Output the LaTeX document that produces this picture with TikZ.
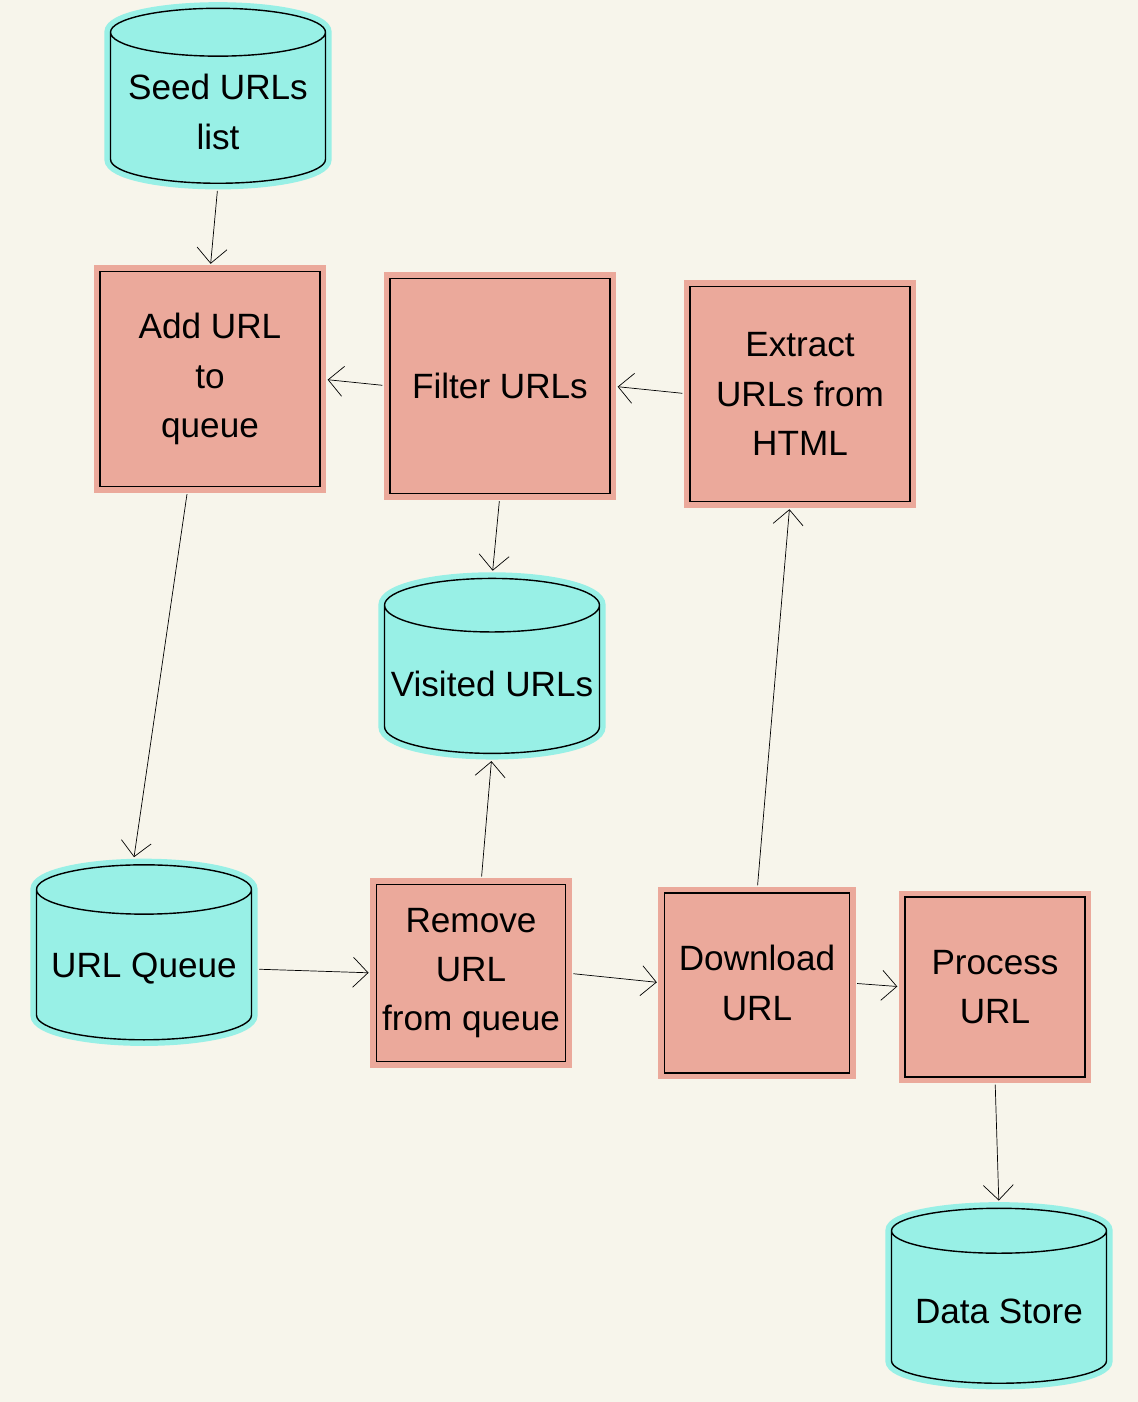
\documentclass[tikz,border=0pt]{standalone}
\usepackage{fontspec}
\setmainfont{Liberation Sans}
\usetikzlibrary{arrows.meta,positioning,shapes.geometric}
\definecolor{paper}{HTML}{F7F5EB}
\definecolor{storefill}{HTML}{98F0E6}
\definecolor{taskfill}{HTML}{EBA99B}

\begin{document}
\begin{tikzpicture}[x=0.02cm,y=-0.02cm,
  task/.style={draw=black,thick,fill=taskfill,preaction={draw=taskfill,line width=7pt},
    minimum width=4.4cm,minimum height=4.3cm,align=center,font=\fontsize{20}{28}\selectfont},
  store/.style={cylinder,shape border rotate=90,aspect=0.25,draw=black,thick,fill=storefill,
    preaction={draw=storefill,line width=7pt},
    minimum width=4.3cm,minimum height=3.5cm,align=center,font=\fontsize{20}{28}\selectfont},
  flow/.style={-{Straight Barb[length=3mm,width=6mm]},thin,shorten <=4pt,shorten >=4pt}]
\fill[paper] (0,0) rectangle (1138,1402);
\useasboundingbox (0,0) rectangle (1138,1402);

% stores
\node[store] (seed) at (218,112) {Seed URLs\\list};
\node[store] (visited) at (492,684) {Visited URLs};
\node[store] (queue) at (144,969) {URL Queue};
\node[store] (data) at (999,1311) {Data Store};

% steps
\node[task] (add) at (210,379) {Add URL\\to\\queue};
\node[task] (filter) at (500,386) {Filter URLs};
\node[task] (extract) at (800,394) {Extract\\URLs from\\HTML};
\node[task,minimum width=3.75cm,minimum height=3.55cm] (remove) at (471,973) {Remove\\URL\\from queue};
\node[task,minimum width=3.7cm,minimum height=3.6cm] (download) at (757,983) {Download\\URL};
\node[task,minimum width=3.6cm,minimum height=3.6cm] (process) at (995,987) {Process\\URL};

% connectors
\draw[flow] (seed.south) -- (add.north);
\draw[flow] (filter.west) -- (add.east);
\draw[flow] (extract.west) -- (filter.east);
\draw[flow] (filter.south) -- (visited.north);
\draw[flow] ([xshift=-0.44cm]add.south) -- ([xshift=-0.22cm]queue.north);
\draw[flow] (queue.east) -- (remove.west);
\draw[flow] ([xshift=0.2cm]remove.north) -- (visited.south);
\draw[flow] (remove.east) -- (download.west);
\draw[flow] (download.north) -- ([xshift=-0.2cm]extract.south);
\draw[flow] (download.east) -- (process.west);
\draw[flow] (process.south) -- (data.north);
\end{tikzpicture}
\end{document}
